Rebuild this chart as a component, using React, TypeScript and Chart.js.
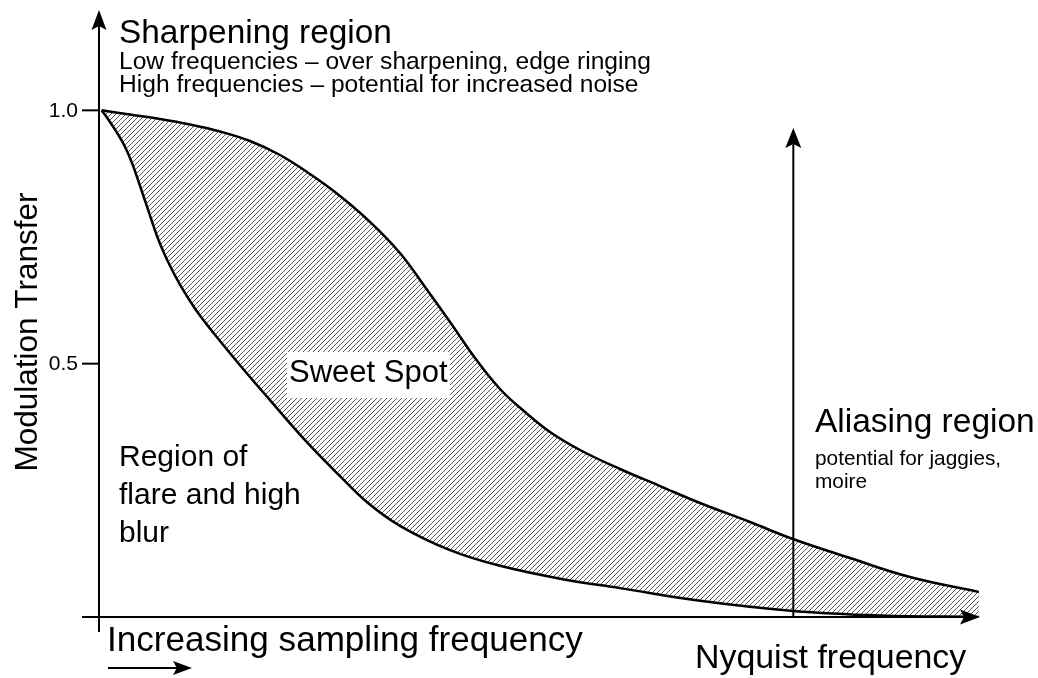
import { useEffect, useRef } from "react";
import { Chart, registerables } from "chart.js";
Chart.register(...registerables);

// Upper boundary of the sweet spot (sharpening limit)
const upperX = [0.3, 3.52, 6.93, 10.34, 13.75, 17.16, 20.57, 23.98, 27.39, 30.8, 34.2, 37.05, 39.89, 42.73, 45.57, 48.41, 51.25, 54.66, 59.2, 63.75, 68.3, 73.98, 78.86, 85.34, 92.16, 100];
const upperY = [1.0, 0.9918, 0.9829, 0.972, 0.9582, 0.9394, 0.9118, 0.8743, 0.8309, 0.7796, 0.7184, 0.6513, 0.5822, 0.5112, 0.45, 0.4046, 0.3651, 0.3296, 0.2921, 0.2585, 0.225, 0.1875, 0.1539, 0.1164, 0.0789, 0.0493];
// Lower boundary (flare / blur limit)
const lowerX = [0.3, 1.02, 1.93, 2.84, 3.75, 4.66, 5.57, 6.59, 7.73, 9.2, 11.02, 13.18, 16.02, 19.43, 23.41, 27.39, 30.57, 34.2, 39.89, 45.57, 53.18, 59.2, 68.3, 78.86, 88.75, 100];
const lowerY = [1.0, 0.983, 0.959, 0.932, 0.896, 0.851, 0.804, 0.752, 0.705, 0.656, 0.606, 0.557, 0.497, 0.428, 0.349, 0.278, 0.225, 0.18, 0.132, 0.101, 0.073, 0.057, 0.032, 0.012, 0.003, 0];

const yTicks = [0.5, 1.0];
const yTickLabels = ["0.5", "1.0"];
const nyquistX = 78.9;
const nyquistTop = 0.965;
const xMax = 100;
const yMax = 1.2;

const FONT = '"Liberation Sans", Arial, Helvetica, sans-serif';

function makeHatch(): CanvasPattern | string {
  const t = document.createElement("canvas");
  t.width = 5;
  t.height = 5;
  const c = t.getContext("2d");
  if (!c) return "#ccc";
  c.strokeStyle = "#000";
  c.lineWidth = 0.65;
  c.beginPath();
  c.moveTo(-1, 6);
  c.lineTo(6, -1);
  c.moveTo(-1, 1);
  c.lineTo(1, -1);
  c.moveTo(4, 6);
  c.lineTo(6, 4);
  c.stroke();
  const p = c.createPattern(t, "repeat");
  return p || "#ccc";
}

function arrowHead(ctx: CanvasRenderingContext2D, tx: number, ty: number, dx: number, dy: number, len: number, hw: number) {
  const px = -dy, py = dx;
  const bx = tx - dx * len, by = ty - dy * len;
  const nx = tx - dx * len * 0.8, ny = ty - dy * len * 0.8;
  ctx.beginPath();
  ctx.moveTo(tx, ty);
  ctx.lineTo(bx + px * hw, by + py * hw);
  ctx.lineTo(nx, ny);
  ctx.lineTo(bx - px * hw, by - py * hw);
  ctx.closePath();
  ctx.fill();
}

function text(ctx: CanvasRenderingContext2D, s: string, x: number, y: number, size: number, align: CanvasTextAlign = "left") {
  ctx.font = `${size}px ${FONT}`;
  ctx.textAlign = align;
  ctx.textBaseline = "alphabetic";
  ctx.fillText(s, x, y);
}

const decor = {
  id: "decor",
  afterDraw(chart: any) {
    const ctx: CanvasRenderingContext2D = chart.ctx;
    const xs = chart.scales.x;
    const ys = chart.scales.y;
    const x0 = xs.getPixelForValue(0);
    const y0 = ys.getPixelForValue(0);
    ctx.save();
    ctx.fillStyle = "#000";
    ctx.strokeStyle = "#000";

    // Sweet spot label with white backing
    ctx.fillStyle = "#fff";
    ctx.fillRect(287, 352, 163, 46);
    ctx.fillStyle = "#000";
    text(ctx, "Sweet Spot", 289, 382, 31);

    // axes
    ctx.lineWidth = 2;
    ctx.beginPath();
    ctx.moveTo(x0, y0 + 15);
    ctx.lineTo(x0, ys.top + 8);
    ctx.moveTo(x0 - 17, y0);
    ctx.lineTo(xs.right - 8, y0);
    ctx.stroke();
    arrowHead(ctx, x0, ys.top + 1, 0, -1, 20, 7.5);
    arrowHead(ctx, xs.right + 1, y0, 1, 0, 20, 7.5);

    // y ticks
    ctx.lineWidth = 2;
    yTicks.forEach((v, i) => {
      const py = ys.getPixelForValue(v);
      ctx.beginPath();
      ctx.moveTo(x0 - 17, py);
      ctx.lineTo(x0, py);
      ctx.stroke();
      ctx.font = `21px ${FONT}`;
      ctx.textAlign = "right";
      ctx.textBaseline = "middle";
      ctx.fillText(yTickLabels[i], x0 - 21, py + 1);
    });

    // Nyquist line
    const nx = xs.getPixelForValue(nyquistX);
    const nt = ys.getPixelForValue(nyquistTop);
    ctx.lineWidth = 2;
    ctx.beginPath();
    ctx.moveTo(nx, y0);
    ctx.lineTo(nx, nt + 8);
    ctx.stroke();
    arrowHead(ctx, nx, nt, 0, -1, 20, 8);

    // y title
    ctx.save();
    ctx.translate(37, 332);
    ctx.rotate(-Math.PI / 2);
    text(ctx, "Modulation Transfer", 0, 0, 31.5, "center");
    ctx.restore();

    // texts
    text(ctx, "Sharpening region", 119, 43, 33.4);
    text(ctx, "Low frequencies \u2013 over sharpening, edge ringing", 119, 69, 24.6);
    text(ctx, "High frequencies \u2013 potential for increased noise", 119, 92, 24.6);

    text(ctx, "Region of", 119, 466, 30);
    text(ctx, "flare and high", 119, 504, 30);
    text(ctx, "blur", 119, 542, 30);

    text(ctx, "Aliasing region", 815, 432, 33.5);
    text(ctx, "potential for jaggies,", 815, 465, 20.8);
    text(ctx, "moire", 815, 488, 20.8);

    text(ctx, "Increasing sampling frequency", 107, 651, 35.1);
    text(ctx, "Nyquist frequency", 695, 668, 33.9);

    // small arrow under increasing label
    ctx.lineWidth = 2;
    ctx.beginPath();
    ctx.moveTo(108, 668);
    ctx.lineTo(180, 668);
    ctx.stroke();
    arrowHead(ctx, 192, 668, 1, 0, 19, 7);

    ctx.restore();
  },
};

export default function App() {
  const ref = useRef<HTMLCanvasElement | null>(null);
  useEffect(() => {
    const canvas = ref.current;
    if (!canvas) return;
    const hatch = makeHatch();
    const chart = new Chart(canvas, {
      type: "line",
      data: {
        datasets: [
          {
            label: "upper",
            data: upperX.map((x, i) => ({ x, y: upperY[i] })),
            borderColor: "#000",
            borderWidth: 2.5,
            pointRadius: 0,
            tension: 0.4,
            fill: 1,
            backgroundColor: hatch as any,
          },
          {
            label: "lower",
            data: lowerX.map((x, i) => ({ x, y: lowerY[i] })),
            borderColor: "#000",
            borderWidth: 2.5,
            pointRadius: 0,
            tension: 0.4,
            fill: false,
          },
        ],
      },
      options: {
        animation: false,
        responsive: false,
        devicePixelRatio: 1,
        layout: { padding: { left: 99, right: 59, top: 9, bottom: 61 } },
        plugins: { legend: { display: false }, tooltip: { enabled: false } },
        scales: {
          x: { type: "linear", min: 0, max: xMax, display: false },
          y: { type: "linear", min: 0, max: yMax, display: false },
        },
      },
      plugins: [decor],
    });
    return () => chart.destroy();
  }, []);
  return (
    <div style={{ position: "fixed", left: 0, top: 0, width: 1038, height: 678, background: "#fff" }}>
      <canvas ref={ref} width={1038} height={678} />
    </div>
  );
}
